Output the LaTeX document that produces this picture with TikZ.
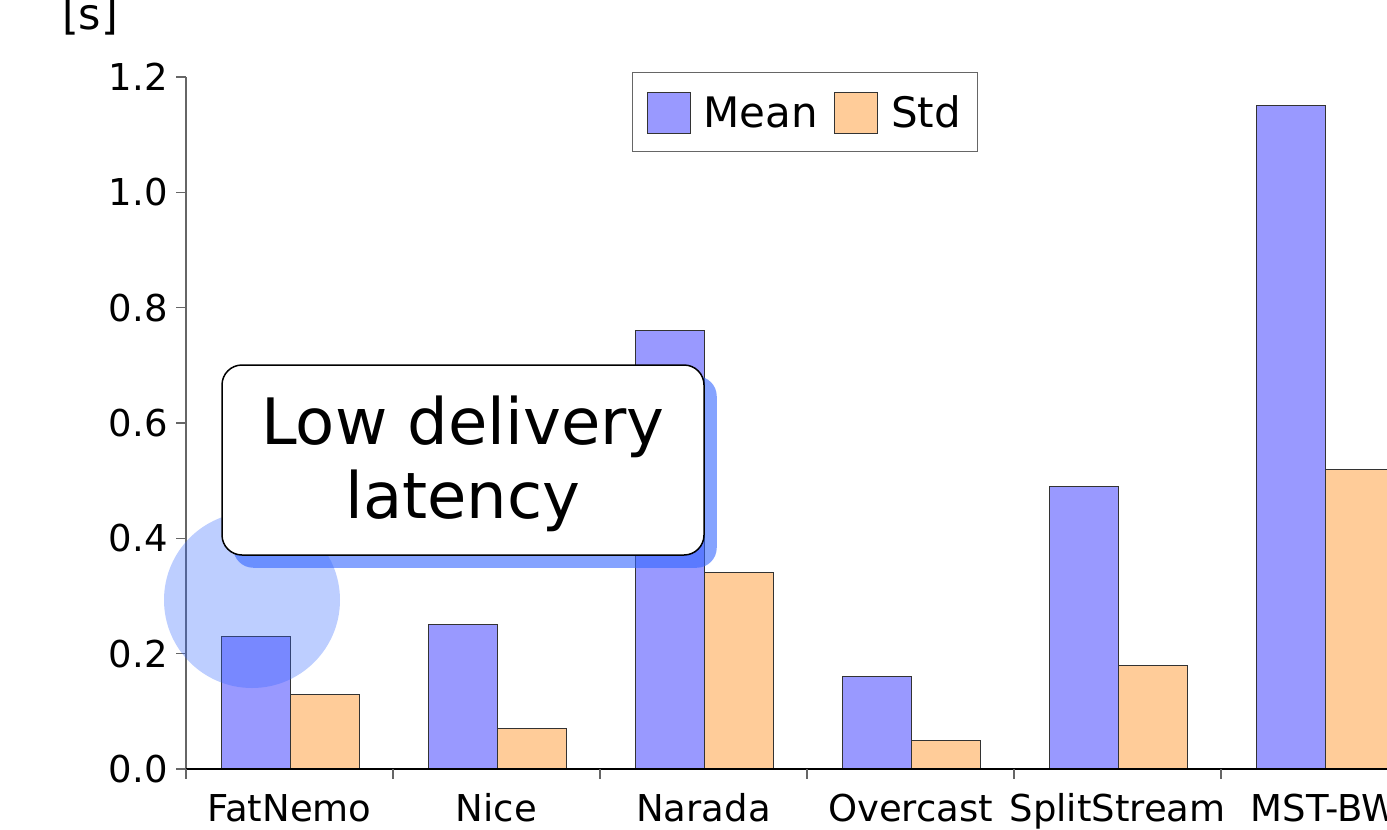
\documentclass[tikz,border=0pt]{standalone}
\usepackage{fontspec}
\setmainfont{DejaVu Sans}
\definecolor{meanc}{HTML}{9999FF}
\definecolor{stdc}{HTML}{FFCC99}
\definecolor{barline}{HTML}{333333}
\definecolor{axisgray}{HTML}{666666}
\definecolor{hlblue}{HTML}{3366FF}
\begin{document}
\begin{tikzpicture}[x=1pt,y=-1pt,
  meanbar/.style={fill=meanc, draw=barline, line width=1pt},
  stdbar/.style={fill=stdc, draw=barline, line width=1pt},
  axisline/.style={draw=axisgray, line width=1.5pt},
  ticklab/.style={font=\fontsize{37}{44}\selectfont, anchor=east, inner sep=0pt},
  catlab/.style={font=\fontsize{37}{44}\selectfont, anchor=base, inner sep=0pt},
  leglab/.style={font=\fontsize{42}{50}\selectfont, anchor=base west, inner sep=0pt},
  calltext/.style={font=\fontsize{64}{74}\selectfont, anchor=base, inner sep=0pt},
  callbox/.style={draw=black, fill=white, rounded corners=20pt, line width=1.5pt, minimum width=482pt, minimum height=190pt, inner sep=0pt},
  shadowfill/.style={fill=hlblue, opacity=0.6, rounded corners=20pt},
  spot/.style={fill=hlblue, opacity=0.32}]
\useasboundingbox (0,0) rectangle (1387,830);
\clip (0,0) rectangle (1387,830);
% unit label
\node[font=\fontsize{43}{50}\selectfont, anchor=base west, inner sep=0pt] (unit) at (62,29) {[s]};
% bars
\foreach \i/\m/\s in {0/0.23/0.13, 1/0.25/0.07, 2/0.76/0.34, 3/0.16/0.05, 4/0.49/0.18, 5/1.15/0.52}{
  \pgfmathsetmacro{\xa}{221+207*\i}
  \pgfmathsetmacro{\xb}{\xa+69}
  \pgfmathsetmacro{\xc}{\xa+138}
  \pgfmathsetmacro{\ym}{769-576.67*\m}
  \pgfmathsetmacro{\ys}{769-576.67*\s}
  \draw[meanbar] (\xa,769) rectangle (\xb,\ym);
  \draw[stdbar] (\xb,769) rectangle (\xc,\ys);
}
% axes
\draw[axisline] (186,77) -- (186,779);
\draw[draw=black, line width=1.5pt] (176,769) -- (1387,769);
\foreach \v/\t in {0/0.0, 1/0.2, 2/0.4, 3/0.6, 4/0.8, 5/1.0, 6/1.2}{
  \pgfmathsetmacro{\yy}{769-115.33*\v}
  \draw[axisline] (176,\yy) -- (186,\yy);
  \node[ticklab] (yt\v) at (168,\yy) {\t};
}
\foreach \i/\n in {0/FatNemo, 1/Nice, 2/Narada, 3/Overcast, 4/SplitStream, 5/MST-BW}{
  \pgfmathsetmacro{\xt}{186+207*\i}
  \pgfmathsetmacro{\xl}{289.5+207*\i}
  \draw[axisline] (\xt,769) -- (\xt,779);
  \node[catlab] (cat\i) at (\xl,821) {\n};
}
% highlight spot
\fill[spot] (252,600) circle[radius=88];
% callout
\node[callbox, fill=none, draw=none] (callpos) at (463,460) {};
\fill[shadowfill] ([shift={(12,12)}]callpos.south west) rectangle ([shift={(12,12)}]callpos.north east);
\node[callbox] (callout) at (463,460) {};
\node[calltext] (line1) at (463,444) {Low delivery};
\node[calltext] (line2) at (463,518) {latency};
% legend
\draw[draw=axisgray, line width=1pt, fill=white] (632,72) rectangle (977,151);
\draw[meanbar] (647,92) rectangle (690,133);
\node[leglab] (legmean) at (703,127) {Mean};
\draw[stdbar] (834,92) rectangle (877,133);
\node[leglab] (legstd) at (891,127) {Std};
\end{tikzpicture}
\end{document}
